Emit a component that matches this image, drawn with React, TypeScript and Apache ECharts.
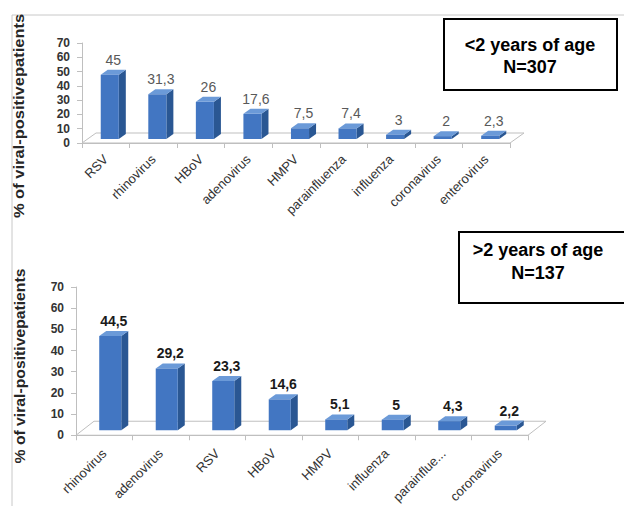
import React, { useEffect, useRef } from 'react';
import * as echarts from 'echarts';

const topCategories = ['RSV', 'rhinovirus', 'HBoV', 'adenovirus', 'HMPV', 'parainfluenza', 'influenza', 'coronavirus', 'enterovirus'];
const topValues = [45, 31.3, 26, 17.6, 7.5, 7.4, 3, 2, 2.3];
const bottomCategories = ['rhinovirus', 'adenovirus', 'RSV', 'HBoV', 'HMPV', 'influenza', 'parainflue...', 'coronavirus'];
const bottomValues = [44.5, 29.2, 23.3, 14.6, 5.1, 5, 4.3, 2.2];
const yMin = 0;
const yMax = 70;
const yInterval = 10;
const axisTitle = '% of viral-positivepatients';
const topBoxLines = ['<2 years of age', 'N=307'];
const bottomBoxLines = ['>2 years of age', 'N=137'];

const FRONT = '#4276c2';
const SIDE = '#2a5793';
const TOPC = '#6b9ad8';
const AXIS_GRAY = '#bfbfbf';
const SANS = "'Liberation Sans', Arial, sans-serif";

const fmt = (v: number) => String(v).replace('.', ',');

function barRenderer(o: { frac: number; off: [number, number]; depth: [number, number]; labelColor: string; labelWeight: string; labelSize: number }) {
  return (params: any, api: any) => {
    const i = api.value(0);
    const v = api.value(1);
    const base = api.coord([i, 0]);
    const top = api.coord([i, v]);
    const band = api.size([1, 0])[0];
    const w = band * o.frac;
    const x0 = base[0] - w / 2 + o.off[0];
    const x1 = x0 + w;
    const yb = base[1] + o.off[1];
    const yt = top[1] + o.off[1];
    const [dx, dy] = o.depth;
    const h = Math.max(yb - yt, 0);
    return {
      type: 'group',
      children: [
        { type: 'polygon', shape: { points: [[x1, yt], [x1 + dx, yt + dy], [x1 + dx, yb + dy], [x1, yb]] }, style: { fill: SIDE } },
        { type: 'polygon', shape: { points: [[x0, yt], [x0 + dx, yt + dy], [x1 + dx, yt + dy], [x1, yt]] }, style: { fill: TOPC } },
        { type: 'rect', shape: { x: x0, y: yt, width: w, height: h }, style: { fill: FRONT } },
        {
          type: 'text',
          style: {
            text: fmt(v),
            x: (x0 + x1) / 2 + dx / 2,
            y: yt + dy - 3,
            align: 'center',
            verticalAlign: 'bottom',
            fill: o.labelColor,
            fontSize: o.labelSize,
            fontWeight: o.labelWeight,
            fontFamily: SANS,
          },
        },
      ],
    };
  };
}

function floorRenderer(depth: [number, number]) {
  return (params: any) => {
    const cs = params.coordSys;
    const x = cs.x;
    const y = cs.y + cs.height;
    const w = cs.width;
    const [dx, dy] = depth;
    return {
      type: 'polygon',
      shape: { points: [[x, y], [x + w, y], [x + w + dx, y + dy], [x + dx, y + dy]] },
      style: { fill: 'none', stroke: AXIS_GRAY, lineWidth: 1 },
    };
  };
}

function box(x: number, y: number, w: number, h: number, lines: string[], cx: number, ys: number[]) {
  return {
    type: 'group',
    children: [
      { type: 'rect', shape: { x, y, width: w, height: h }, style: { fill: '#fff', stroke: '#000', lineWidth: 2 } },
      ...lines.map((t, k) => ({
        type: 'text',
        style: { text: t, x: cx, y: ys[k], align: 'center', verticalAlign: 'middle', fill: '#000', fontSize: 18, fontWeight: 'bold', fontFamily: SANS },
      })),
    ],
  };
}

export default function App() {
  const ref = useRef<HTMLDivElement>(null);
  useEffect(() => {
    document.body.style.margin = '0';
    const chart = echarts.init(ref.current!, undefined, { renderer: 'svg' });
    const yAxisCommon = {
      type: 'value',
      min: yMin,
      max: yMax,
      interval: yInterval,
      axisLine: { show: true, lineStyle: { color: AXIS_GRAY } },
      axisTick: { show: true, length: 5, lineStyle: { color: AXIS_GRAY } },
      splitLine: { show: false },
      axisLabel: { color: '#333', fontSize: 12, fontWeight: 'bold', fontFamily: SANS, margin: 12 },
    };
    const xAxisCommon = {
      type: 'category',
      axisLine: { show: true, lineStyle: { color: AXIS_GRAY } },
      axisTick: { show: true, length: 5, lineStyle: { color: AXIS_GRAY } },
      axisLabel: { rotate: 45, color: '#333', fontSize: 13, fontFamily: SANS, margin: 14, interval: 0 },
    };
    chart.setOption({
      animation: false,
      grid: [
        { left: 82, top: 43, width: 428, height: 100 },
        { left: 76, top: 287, width: 452, height: 150 },
      ],
      xAxis: [
        { ...xAxisCommon, gridIndex: 0, data: topCategories },
        { ...xAxisCommon, gridIndex: 1, data: bottomCategories, axisLabel: { ...xAxisCommon.axisLabel, margin: 16 } },
      ],
      yAxis: [
        { ...yAxisCommon, gridIndex: 0 },
        { ...yAxisCommon, gridIndex: 1 },
      ],
      series: [
        {
          type: 'custom', xAxisIndex: 0, yAxisIndex: 0, silent: true, z: 1,
          renderItem: floorRenderer([14, -10]), data: [[0, 0]],
        },
        {
          type: 'custom', xAxisIndex: 0, yAxisIndex: 0, z: 2,
          renderItem: barRenderer({ frac: 0.38, off: [4, -4], depth: [7, -5], labelColor: '#595959', labelWeight: 'normal', labelSize: 14 }),
          data: topValues.map((v, i) => [i, v]),
        },
        {
          type: 'custom', xAxisIndex: 1, yAxisIndex: 1, silent: true, z: 1,
          renderItem: floorRenderer([18, -14]), data: [[0, 0]],
        },
        {
          type: 'custom', xAxisIndex: 1, yAxisIndex: 1, z: 2,
          renderItem: barRenderer({ frac: 0.39, off: [6, -5], depth: [7, -5], labelColor: '#1a1a1a', labelWeight: 'bold', labelSize: 14 }),
          data: bottomValues.map((v, i) => [i, v]),
        },
      ],
      graphic: [
        { type: 'line', shape: { x1: 12, y1: 15, x2: 624, y2: 15 }, style: { stroke: '#c8c8c8', lineWidth: 1 } },
        { type: 'line', shape: { x1: 12, y1: 15, x2: 12, y2: 506 }, style: { stroke: '#c8c8c8', lineWidth: 1 } },
        {
          type: 'text', x: 19, y: 116, rotation: Math.PI / 2, scaleX: 1.1,
          style: { text: axisTitle, align: 'center', verticalAlign: 'middle', fill: '#262626', fontSize: 15, fontWeight: 'bold', fontFamily: SANS },
        },
        {
          type: 'text', x: 20, y: 366, rotation: Math.PI / 2, scaleX: 1.05,
          style: { text: axisTitle, align: 'center', verticalAlign: 'middle', fill: '#262626', fontSize: 15, fontWeight: 'bold', fontFamily: SANS },
        },
        box(444, 19, 173, 71, topBoxLines, 530, [45, 67]),
        box(459, 232, 175, 71, bottomBoxLines, 538, [250, 273]),
      ],
    });
    return () => chart.dispose();
  }, []);
  return <div ref={ref} style={{ width: 624, height: 506 }} />;
}
